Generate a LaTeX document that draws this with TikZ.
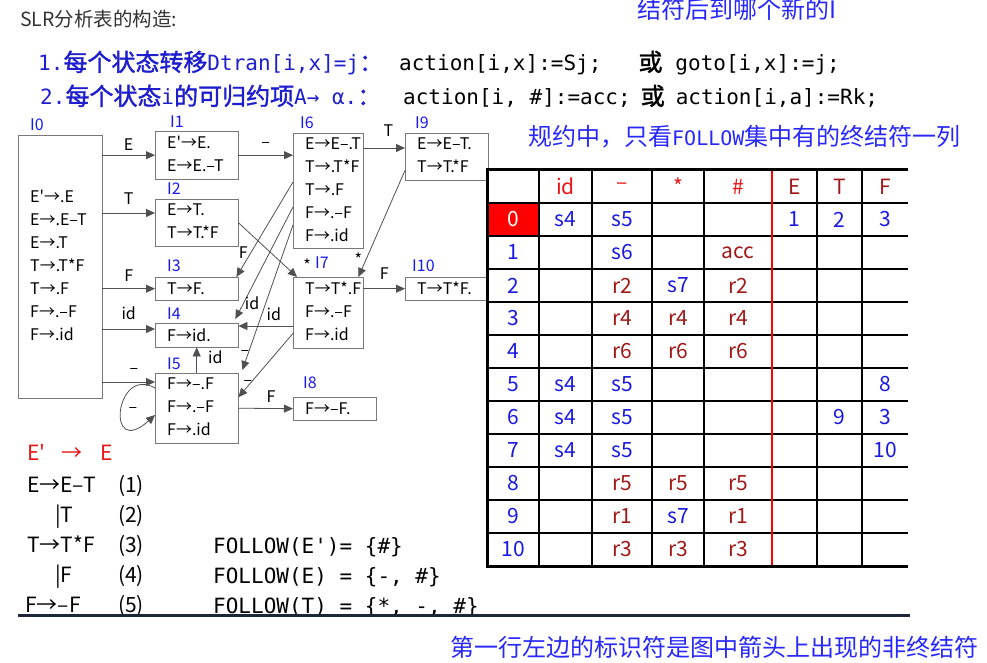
\documentclass[tikz,border=0pt]{standalone}
\usepackage{fontspec}
\setmainfont{Noto Sans CJK SC}
\newfontfamily\nsc{Noto Sans CJK SC}
\newfontfamily\mono{DejaVu Sans Mono}
\newfontfamily\cjkb{Noto Sans CJK SC}[FakeBold=1.5]
\usetikzlibrary{arrows.meta,positioning}

\definecolor{labblue}{RGB}{25,25,235}
\definecolor{noteblue}{RGB}{40,40,250}
\definecolor{penblue}{RGB}{30,30,205}
\definecolor{tblue}{RGB}{25,25,225}
\definecolor{tdred}{RGB}{160,25,25}
\definecolor{tred}{RGB}{235,20,20}
\definecolor{boxgray}{RGB}{120,120,120}
\definecolor{linegray}{RGB}{80,80,80}
\definecolor{navy}{RGB}{30,38,58}
\definecolor{titlegray}{RGB}{50,50,50}

\newcommand{\penfont}{\cjkb\fontsize{24}{28}\selectfont}
\newcommand{\dred}[1]{\textcolor{tdred}{#1}}
\newcommand{\stateitems}[1]{\begin{tabular}{@{}l@{}}#1\end{tabular}}

\begin{document}
\begin{tikzpicture}[
    x=1pt, y=-1pt,
    state/.style={
        draw=boxgray, fill=white, anchor=north west,
        inner xsep=12pt, inner ysep=0pt, align=left,
        font=\nsc\fontsize{16}{23}\selectfont
    },
    statelab/.style={anchor=south west, inner sep=0pt, text=labblue, font=\nsc\fontsize{16}{18}\selectfont},
    arr/.style={draw=linegray, line width=0.8pt, -{Triangle[length=9pt,width=8pt]}},
    elab/.style={inner sep=0pt, text height=11.7pt, text depth=0pt, font=\nsc\fontsize{16}{18}\selectfont},
    tabtxt/.style={inner sep=0pt, text=tblue, font=\nsc\fontsize{21}{24}\selectfont},
    gram/.style={anchor=base west, inner sep=0pt, font=\nsc\fontsize{21}{24}\selectfont},
    follow/.style={anchor=base west, inner sep=0pt, font=\mono\fontsize{21}{24}\selectfont},
    headline/.style={anchor=base west, inner sep=0pt, font=\mono\fontsize{21}{24}\selectfont},
    note/.style={anchor=base west, inner sep=0pt, text=noteblue, font=\nsc\fontsize{24}{28}\selectfont}
]
    \useasboundingbox (0,0) rectangle (987,663);

    % --- heading and rules ---
    \node[anchor=base west, inner sep=0pt, text=titlegray, font=\nsc\fontsize{19.5}{22}\selectfont] (title) at (20,27) {SLR分析表的构造:};
    \node[note] (hint1) at (637,19) {结符后到哪个新的I};
    \node[headline, text=penblue] (rule1) at (38,71) {1.{\penfont 每个状态转移}Dtran[i,x]=j{\penfont ：}};
    \node[headline] (act1) at (399,71) {action[i,x]:=Sj;\hspace{37pt}{\penfont 或}\hspace{13pt}goto[i,x]:=j;};
    \node[headline, text=penblue] (rule2) at (40,105) {2.{\penfont 每个状态}i{\penfont 的可归约项}A→ α.{\penfont ：}};
    \node[headline] (act2) at (403,105) {action[i, \#]:=acc;\hspace{10pt}{\penfont 或}\hspace{11pt}action[i,a]:=Rk;};
    \node[note] (hint2) at (528,146) {规约中，只看{\mono\fontsize{20}{24}\selectfont FOLLOW}集中有的终结符一列};

    % --- item sets ---
    \node[state, text width=60pt, minimum height=263pt] (I0) at (18,135) {\stateitems{E'→.E\\E→.E–T\\E→.T\\T→.T*F\\T→.F\\F→.–F\\F→.id}};
    \node[state, text width=59pt, minimum height=48pt] (I1) at (155,131) {\stateitems{E'→E.\\E→E.–T}};
    \node[state, text width=59pt, minimum height=47pt] (I2) at (155,199) {\stateitems{E→T.\\T→T.*F}};
    \node[state, text width=59pt, minimum height=23pt] (I3) at (155,277) {T→F.};
    \node[state, text width=59pt, minimum height=24pt] (I4) at (155,323) {F→id.};
    \node[state, text width=59pt, minimum height=70pt] (I5) at (155,373) {\stateitems{F→–.F\\F→.–F\\F→.id}};
    \node[state, text width=46pt, minimum height=110pt] (I6) at (293,133) {\stateitems{E→E–.T\\T→.T*F\\T→.F\\F→.–F\\F→.id}};
    \node[state, text width=46pt, minimum height=71pt] (I7) at (293,277) {\stateitems{T→T*.F\\F→.–F\\F→.id}};
    \node[state, text width=59pt, minimum height=23pt] (I8) at (293,397) {F→–F.};
    \node[state, text width=59pt, minimum height=47pt] (I9) at (405,133) {\stateitems{E→E–T.\\T→T.*F}};
    \node[state, text width=61pt, minimum height=23pt] (I10) at (405,277) {T→T*F.};

    \node[statelab] (I0l) at ([xshift=12pt,yshift=4pt]I0.north west) {I0};
    \node[statelab] (I1l) at ([xshift=15pt,yshift=3pt]I1.north west) {I1};
    \node[statelab] (I2l) at ([xshift=12pt,yshift=4.5pt]I2.north west) {I2};
    \node[statelab] (I3l) at ([xshift=12pt,yshift=5pt]I3.north west) {I3};
    \node[statelab] (I4l) at ([xshift=12pt,yshift=3pt]I4.north west) {I4};
    \node[statelab] (I5l) at ([xshift=12pt,yshift=3pt]I5.north west) {I5};
    \node[statelab] (I6l) at ([xshift=7pt,yshift=4.5pt]I6.north west) {I6};
    \node[statelab] (I7l) at ([xshift=22pt,yshift=8pt]I7.north west) {I7};
    \node[statelab] (I8l) at ([xshift=10pt,yshift=8.5pt]I8.north west) {I8};
    \node[statelab] (I9l) at ([xshift=10pt,yshift=4pt]I9.north west) {I9};
    \node[statelab] (I10l) at ([xshift=7pt,yshift=5pt]I10.north west) {I10};

    % --- transitions ---
    \coordinate (e2) at ([yshift=-14pt]I2.north west);
    \coordinate (e4) at ([yshift=-6pt]I4.north west);
    \coordinate (e5) at ([yshift=-9pt]I5.north west);
    \coordinate (e9) at ([yshift=-15pt]I9.north west);
    \coordinate (e4b) at ([yshift=-3pt]I4.north east);
    \coordinate (l1) at ([yshift=-15pt]I5.north west);
    \coordinate (l2) at ([yshift=-42pt]I5.north west);

    \draw[arr] (I0.east |- I1.west) -- node[elab, above=4pt] {E} (I1.west);
    \draw[arr] (I0.east |- e2) -- node[elab, above=8pt] {T} (e2);
    \draw[arr] (I0.east |- I3.west) -- node[elab, above=7pt] {F} (I3.west);
    \draw[arr] (I0.east |- e4) -- node[elab, above=9pt] {id} (e4);
    \draw[arr] (I0.east |- e5) -- node[elab, above=8pt, pos=0.6] {–} (e5);
    \draw[arr] (l1) .. controls +(-40,-23) and +(-50,45) .. node[elab, pos=0.5, right=7pt, yshift=3pt] {–} (l2);
    \draw[arr] (I1.east) -- node[elab, above=7.5pt] {–} (I1.east -| I6.west);
    \draw[arr] (I6.east |- e9) -- node[elab, above=11pt, pos=0.6] {T} (e9);
    \draw[arr] (I2.east) -- node[elab, pos=1, above right=5pt and 6pt] {*} ([xshift=4pt]I7.north west);
    \draw[arr] ([yshift=10pt]I9.south west) -- node[elab, pos=1, above=11pt] {*} ([xshift=-5pt]I7.north east);
    \draw[arr] (I7.east |- I10.west) -- node[elab, above=9pt] {F} (I10.west);
    \draw[arr] ([yshift=-49pt]I6.north west) -- node[elab, pos=0.74, left=3pt] {F} ([xshift=-2pt]I3.north east);
    \draw[arr] ([yshift=-74pt]I6.north west) -- node[elab, pos=0.86, right=1pt] {id} ([xshift=-3pt,yshift=4pt]I4.north east);
    \draw[arr] ([yshift=-92pt]I6.north west) -- node[elab, pos=0.86, left=0pt] {–} ([xshift=4pt,yshift=3pt]I5.north east);
    \draw[arr] (I7.west |- e4b) -- node[elab, above=5pt, pos=0.35] {id} (e4b);
    \draw[arr] ([yshift=15pt]I7.south west) -- node[elab, pos=0.72, left=1pt] {–} ([yshift=11pt]I5.east);
    \draw[arr] (I5.north) -- node[elab, pos=0.6, right=11pt] {id} (I4.south);
    \draw[arr] (I5.east) -- node[elab, above=6pt, pos=0.6] {F} (I8.west);

    % --- SLR table ---
    \fill[white] (487,170) rectangle (908,566);
    \fill[red] (487,203) rectangle (539,236);
    \foreach \y in {203,236,...,533} \draw[line width=1.3pt] (487,\y) -- (908,\y);
    \foreach \x in {539,592,652,704,817,862} \draw[line width=1.3pt] (\x,170) -- (\x,566);
    \draw[red, line width=2.5pt] (772,170) -- (772,566);
    \draw[line width=3pt] (908,170) -- (487,170) -- (487,566) -- (908,566);

    \foreach \x/\t [count=\k] in {565.5/id, 622/–, 678/*, 738/\#}
        \node[tabtxt, text=tred] (h\k) at (\x,186.5) {\t};
    \foreach \x/\t [count=\k] in {794.5/E, 839.5/T, 885/F}
        \node[tabtxt, text=tdred] (g\k) at (\x,186.5) {\t};
    \node[tabtxt, text=white] (s0) at (513,219.5) {0};
    \foreach \n in {1,...,10}
        \node[tabtxt] (s\n) at (513,{219.5+33*\n}) {\n};
    \foreach \rw/\cells in {
        0/{565.5/s4, 622/s5, 794.5/1, 839.5/2, 885/3},
        1/{622/s6, 738/\dred{acc}},
        2/{622/\dred{r2}, 678/s7, 738/\dred{r2}},
        3/{622/\dred{r4}, 678/\dred{r4}, 738/\dred{r4}},
        4/{622/\dred{r6}, 678/\dred{r6}, 738/\dred{r6}},
        5/{565.5/s4, 622/s5, 885/8},
        6/{565.5/s4, 622/s5, 839.5/9, 885/3},
        7/{565.5/s4, 622/s5, 885/10},
        8/{622/\dred{r5}, 678/\dred{r5}, 738/\dred{r5}},
        9/{622/\dred{r1}, 678/s7, 738/\dred{r1}},
        10/{622/\dred{r3}, 678/\dred{r3}, 738/\dred{r3}}}
        \foreach \x/\t [count=\k] in \cells
            \node[tabtxt] (r\rw-\k) at (\x,{219.5+33*\rw}) {\t};

    % --- grammar and FOLLOW sets ---
    \node[gram, text=tred] (aug) at (27,460) {E'\hspace{16pt}→\hspace{18pt}E};
    \node[gram] (p1) at (27,492) {E→E–T};
    \node[gram] (p2) at (55,522) {|T};
    \node[gram] (p3) at (27,552) {T→T*F};
    \node[gram] (p4) at (55,582) {|F};
    \node[gram] (p5) at (25,612) {F→–F};
    \node[gram] (n1) at (118,492) {(1)};
    \node[gram] (n2) at (118,522) {(2)};
    \node[gram] (n3) at (118,552) {(3)};
    \node[gram] (n4) at (118,582) {(4)};
    \node[gram] (n5) at (118,612) {(5)};

    \node[follow] (f1) at (213,553) {FOLLOW(E')= \{\#\}};
    \node[follow] (f2) at (213,583) {FOLLOW(E) = \{-, \#\}};
    \node[follow] (f3) at (213,613) {FOLLOW(T) = \{*, -, \#\}};

    \draw[navy, line width=3pt] (18,615) -- (910,615);
    \node[note] (hint3) at (450,656) {第一行左边的标识符是图中箭头上出现的非终结符};
\end{tikzpicture}
\end{document}
